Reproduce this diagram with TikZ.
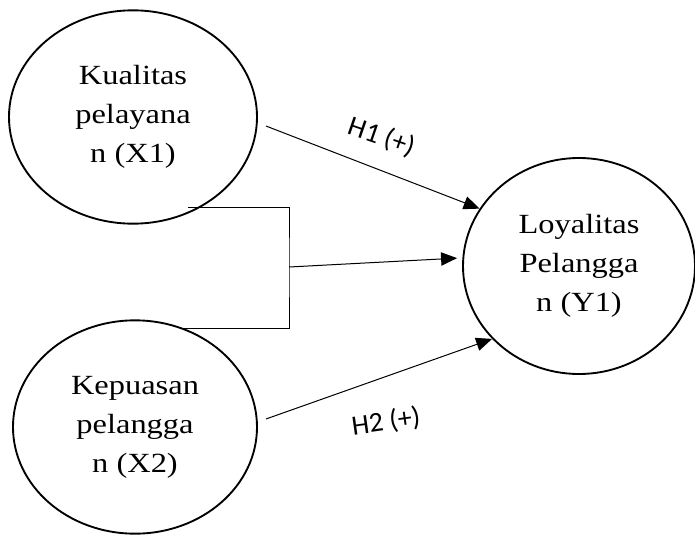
\documentclass[tikz,border=0pt]{standalone}
\usepackage{fontspec}
\setmainfont{Liberation Serif}[FakeStretch=1.17]
\newfontfamily\hypfont{Carlito}
\usetikzlibrary{arrows.meta, calc, shapes.geometric}
\tikzset{
    var/.style={draw, ellipse, line width=1.4pt, align=center, inner sep=0pt,
                font=\fontsize{20.8}{29.25}\selectfont},
    link/.style={-{Triangle[length=12pt, width=10pt]}, line width=0.75pt},
    frame/.style={line width=0.75pt},
    hyp/.style={font=\hypfont\fontsize{21}{25}\selectfont, inner sep=1pt},
}

\begin{document}
\begin{tikzpicture}[x=0.75pt, y=-0.75pt]
\useasboundingbox (0,0) rectangle (695,535);

\node[var, minimum width=186pt, minimum height=160pt] (x1) at (133,117) {Kualitas\\pelayana\\n (X1)};
\node[var, minimum width=183pt, minimum height=160pt] (x2) at (135,427) {Kepuasan\\pelangga\\n (X2)};
\node[var, minimum width=174pt, minimum height=162pt] (y1) at (579,266) {Loyalitas\\Pelangga\\n (Y1)};

% joint effect
\coordinate (jtop) at (188,207);
\coordinate (jbot) at (182,328);
\coordinate (join) at (289,267);
\draw[frame] (jtop) -| (join) |- (jbot);

\draw[link] ([shift={(8,9)}]x1.east) -- (y1.150);
\draw[link, shorten >=4pt] (join) -- (y1.176);
\draw[link] ([shift={(8,-8)}]x2.east) -- (y1.220);

\node[hyp, rotate=-19] (h1) at (382,137) {H1 (+)};
\node[hyp, rotate=8] (h2) at (386,422) {H2 (+)};

\end{tikzpicture}
\end{document}
